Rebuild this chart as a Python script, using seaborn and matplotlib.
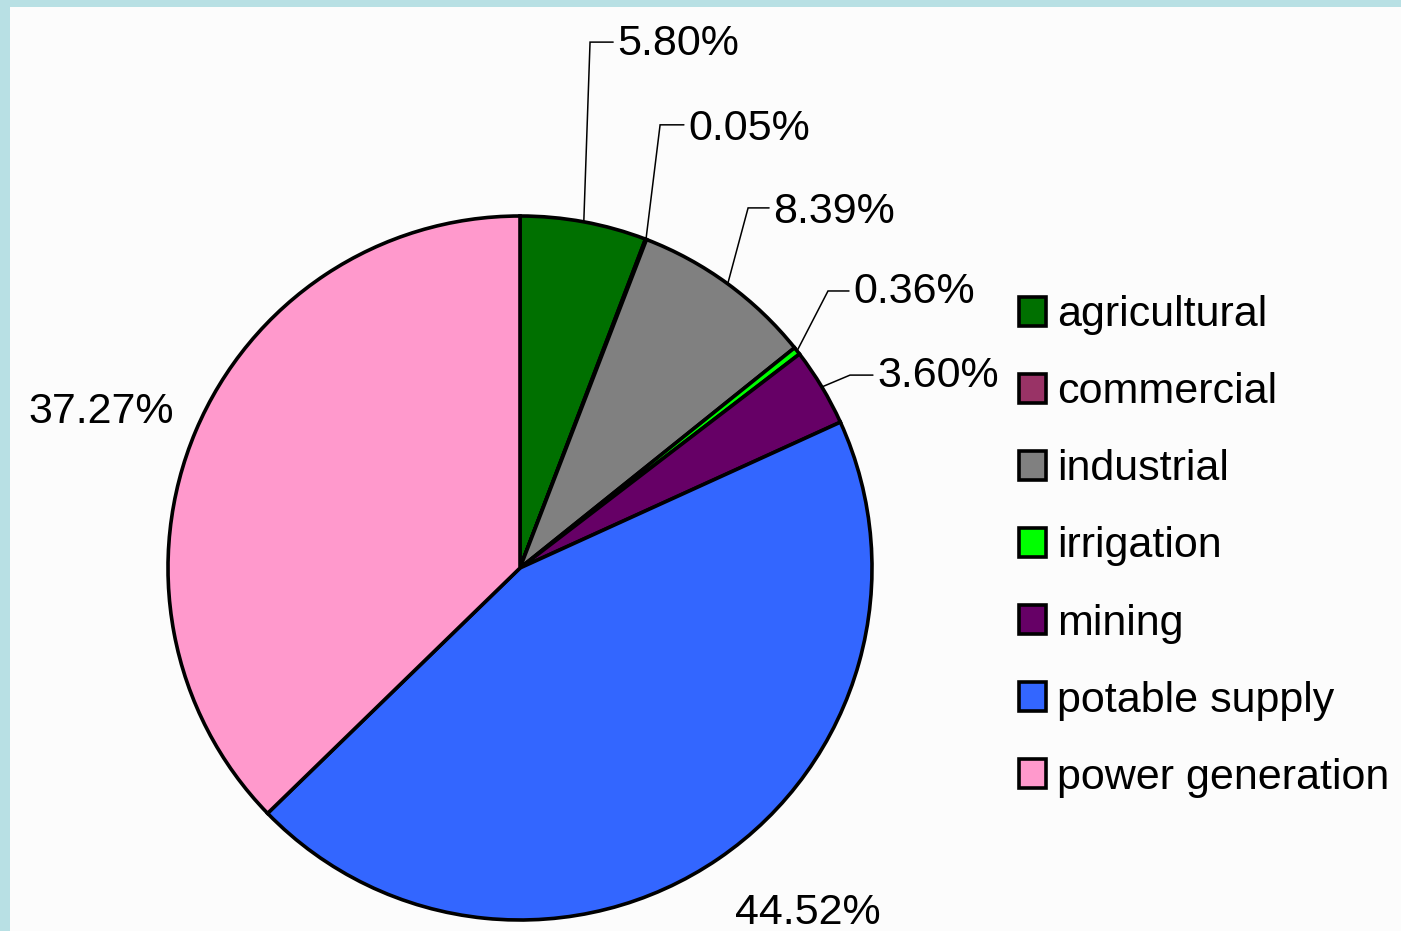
import matplotlib
matplotlib.use("Agg")
import numpy as np
import matplotlib.pyplot as plt
import seaborn as sns

# --- Data ---
categories = ["agricultural", "commercial", "industrial", "irrigation",
              "mining", "potable supply", "power generation"]
shares = [5.80, 0.05, 8.39, 0.36, 3.60, 44.52, 37.27]
colors = ["#007000", "#993366", "#808080", "#00FF00",
          "#660066", "#3366FF", "#FF99CC"]

# --- Label layout (pie units, centre = 0,0, radius = 1) ---
# (text x, text baseline y, ha, elbow x, elbow y) ; elbow None -> no leader line
label_layout = [
    (0.276, 1.457, "left", 0.199, 1.494),
    (0.477, 1.216, "left", 0.398, 1.259),
    (0.719, 0.980, "left", 0.648, 1.023),
    (0.946, 0.753, "left", 0.875, 0.787),
    (1.014, 0.514, "left", 0.9375, 0.548),
    (0.819, -1.010, "center", None, None),
    (-0.983, 0.412, "right", None, None),
]

sns.set_theme(style="white")
plt.rcParams["font.family"] = ["Liberation Sans", "DejaVu Sans"]
plt.rcParams["text.color"] = "black"

W, H = 1401, 931
CX, CY, R = 520, 568, 352  # pie centre / radius in pixels
fig = plt.figure(figsize=(W / 100, H / 100), dpi=100)
fig.patch.set_facecolor("#B8E0E4")

left, top = 10, 7
ax = fig.add_axes([left / W, 0, (W - left) / W, (H - top) / H])
ax.set_facecolor("#FCFCFC")

wedges, _ = ax.pie(
    shares,
    colors=sns.color_palette(colors),
    startangle=90,
    counterclock=False,
    radius=1,
    wedgeprops=dict(edgecolor="black", linewidth=2.6),
)

ax.set_xlim((left - CX) / R, (W - CX) / R)
ax.set_ylim((CY - H) / R, (CY - top) / R)
ax.set_aspect("auto")
ax.axis("off")
ax.add_patch(plt.Rectangle((-5, -5), 10, 10, color="#FCFCFC", zorder=-10))

gap = 4 / R
for w, val, (tx, ty, ha, ex, ey) in zip(wedges, shares, label_layout):
    mid = np.deg2rad((w.theta1 + w.theta2) / 2)
    px, py = np.cos(mid), np.sin(mid)
    if ex is not None:
        ax.plot([px, ex, tx - gap], [py, ey, ey], color="black", lw=1.1,
                solid_joinstyle="miter")
    ax.text(tx, ty, f"{val:.2f}%", ha=ha, va="baseline", fontsize=31,
            color="black")

fig.legend(
    wedges, categories,
    loc="center left",
    bbox_to_anchor=(1018.5 / W, 1 - 546.5 / H),
    frameon=False,
    fontsize=31,
    labelcolor="black",
    handlelength=0.65,
    handleheight=0.65,
    handletextpad=0.25,
    labelspacing=0.86,
    borderpad=0,
    borderaxespad=0,
)

fig.savefig("out.png", dpi=100, facecolor=fig.get_facecolor())
